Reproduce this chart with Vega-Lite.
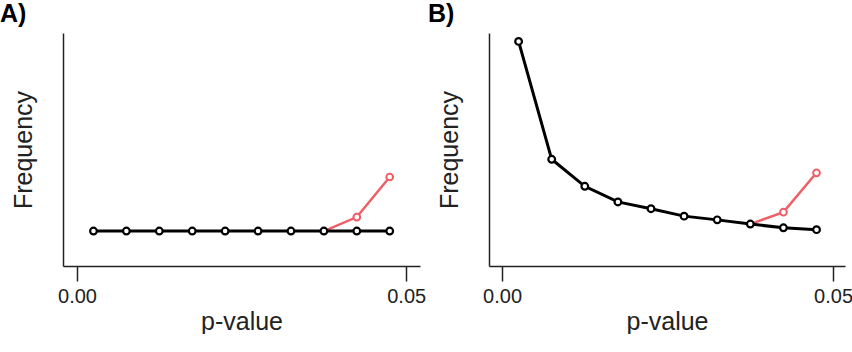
{
  "$schema": "https://vega.github.io/schema/vega-lite/v6.json",
  "background": "white",
  "padding": {"left": 0, "top": 2, "right": 0, "bottom": 0},
  "config": {
    "font": "Liberation Sans",
    "view": {"stroke": null},
    "concat": {"spacing": 2},
    "axis": {"grid": false, "domainColor": "#222222", "domainWidth": 1.5, "tickColor": "#222222", "tickWidth": 1.5, "labelColor": "#222222", "titleColor": "#222222", "titleFontWeight": "normal"},
    "title": {"fontSize": 25, "fontWeight": "bold", "anchor": "start", "color": "black"}
  },
  "datasets": {
    "pts": [
      {"panel": "A", "series": "base", "p": 0.0025, "freq": 15.0},
      {"panel": "A", "series": "base", "p": 0.0075, "freq": 15.0},
      {"panel": "A", "series": "base", "p": 0.0125, "freq": 15.0},
      {"panel": "A", "series": "base", "p": 0.0175, "freq": 15.0},
      {"panel": "A", "series": "base", "p": 0.0225, "freq": 15.0},
      {"panel": "A", "series": "base", "p": 0.0275, "freq": 15.0},
      {"panel": "A", "series": "base", "p": 0.0325, "freq": 15.0},
      {"panel": "A", "series": "base", "p": 0.0375, "freq": 15.0},
      {"panel": "A", "series": "base", "p": 0.0425, "freq": 15.0},
      {"panel": "A", "series": "base", "p": 0.0475, "freq": 15.0},
      {"panel": "A", "series": "hacked", "p": 0.0375, "freq": 15.0},
      {"panel": "A", "series": "hacked", "p": 0.0425, "freq": 21.0},
      {"panel": "A", "series": "hacked", "p": 0.0475, "freq": 38.2},
      {"panel": "B", "series": "base", "p": 0.0025, "freq": 96.4},
      {"panel": "B", "series": "base", "p": 0.0075, "freq": 45.8},
      {"panel": "B", "series": "base", "p": 0.0125, "freq": 34.2},
      {"panel": "B", "series": "base", "p": 0.0175, "freq": 27.5},
      {"panel": "B", "series": "base", "p": 0.0225, "freq": 24.6},
      {"panel": "B", "series": "base", "p": 0.0275, "freq": 21.4},
      {"panel": "B", "series": "base", "p": 0.0325, "freq": 19.8},
      {"panel": "B", "series": "base", "p": 0.0375, "freq": 18.0},
      {"panel": "B", "series": "base", "p": 0.0425, "freq": 16.4},
      {"panel": "B", "series": "base", "p": 0.0475, "freq": 15.6},
      {"panel": "B", "series": "hacked", "p": 0.0375, "freq": 18.0},
      {"panel": "B", "series": "hacked", "p": 0.0425, "freq": 23.1},
      {"panel": "B", "series": "hacked", "p": 0.0475, "freq": 40.0}
    ]
  },
  "hconcat": [
    {
      "width": 357,
      "height": 233,
      "title": {"text": "A)", "frame": "group", "dx": -63, "offset": -14, "baseline": "alphabetic"},
      "data": {"name": "pts"},
      "transform": [{"filter": "datum.panel === 'A'"}],
      "encoding": {
        "x": {"field": "p", "type": "quantitative", "scale": {"domain": [-0.00213, 0.0521], "nice": false, "zero": false},
              "axis": {"title": "p-value", "values": [0, 0.05], "format": ".2f", "tickSize": 15, "labelPadding": 5, "labelFontSize": 20, "titleFontSize": 25, "titlePadding": 3, "labelFlush": false}},
        "y": {"field": "freq", "type": "quantitative", "scale": {"domain": [0, 100], "nice": false},
              "axis": {"title": "Frequency", "ticks": false, "labels": false, "titleFontSize": 25, "titlePadding": 27}}
      },
      "layer": [
        {"transform": [{"filter": "datum.series === 'hacked'"}], "mark": {"type": "line", "color": "#EE6068", "strokeWidth": 2.5}},
        {"transform": [{"filter": "datum.series === 'hacked' && datum.p > 0.04"}], "mark": {"type": "point", "shape": "circle", "filled": true, "fill": "white", "stroke": "#EE6068", "strokeWidth": 2, "size": 45, "opacity": 1}},
        {"transform": [{"filter": "datum.series === 'base'"}], "mark": {"type": "line", "color": "black", "strokeWidth": 3}},
        {"transform": [{"filter": "datum.series === 'base'"}], "mark": {"type": "point", "shape": "circle", "filled": true, "fill": "white", "stroke": "black", "strokeWidth": 2.2, "size": 45, "opacity": 1}}
      ]
    },
    {
      "width": 356,
      "height": 233,
      "title": {"text": "B)", "frame": "group", "dx": -61, "offset": -14, "baseline": "alphabetic"},
      "data": {"name": "pts"},
      "transform": [{"filter": "datum.panel === 'B'"}],
      "encoding": {
        "x": {"field": "p", "type": "quantitative", "scale": {"domain": [-0.00197, 0.0518], "nice": false, "zero": false},
              "axis": {"title": "p-value", "values": [0, 0.05], "format": ".2f", "tickSize": 15, "labelPadding": 5, "labelFontSize": 20, "titleFontSize": 25, "titlePadding": 3, "labelFlush": false}},
        "y": {"field": "freq", "type": "quantitative", "scale": {"domain": [0, 100], "nice": false},
              "axis": {"title": "Frequency", "ticks": false, "labels": false, "titleFontSize": 25, "titlePadding": 27}}
      },
      "layer": [
        {"transform": [{"filter": "datum.series === 'hacked'"}], "mark": {"type": "line", "color": "#EE6068", "strokeWidth": 2.5}},
        {"transform": [{"filter": "datum.series === 'hacked' && datum.p > 0.04"}], "mark": {"type": "point", "shape": "circle", "filled": true, "fill": "white", "stroke": "#EE6068", "strokeWidth": 2, "size": 45, "opacity": 1}},
        {"transform": [{"filter": "datum.series === 'base'"}], "mark": {"type": "line", "color": "black", "strokeWidth": 3}},
        {"transform": [{"filter": "datum.series === 'base'"}], "mark": {"type": "point", "shape": "circle", "filled": true, "fill": "white", "stroke": "black", "strokeWidth": 2.2, "size": 45, "opacity": 1}}
      ]
    }
  ]
}
